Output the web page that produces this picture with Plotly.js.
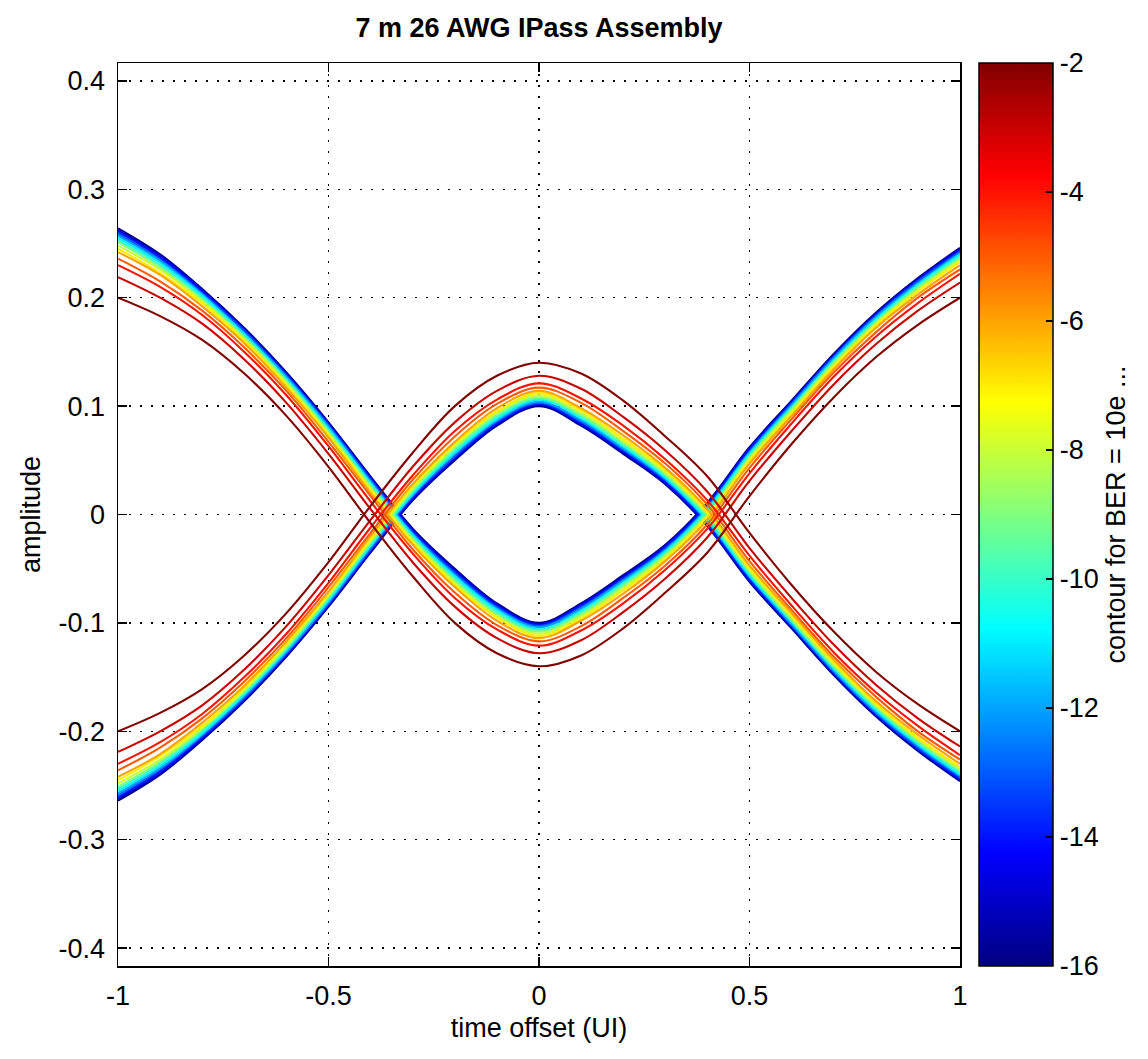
<!DOCTYPE html>
<html><head><meta charset="utf-8">
<script src="https://cdn.plot.ly/plotly-3.0.1.min.js"></script>
<style>html,body{margin:0;padding:0;background:#fff}</style>
</head><body>
<div id="chart" style="width:1148px;height:1059px"></div>
<script>
// ---- data ----
const chartTitle = '7 m 26 AWG IPass Assembly';
const xTitle = 'time offset (UI)';
const yTitle = 'amplitude';
const cbTitle = 'contour for BER = 10e ...';

const timeOffset = [-1,-0.9,-0.8,-0.7,-0.6,-0.5,-0.4,-0.3,-0.2,-0.1,0,0.1,0.2,0.3,0.4,0.5,0.6,0.7,0.8,0.9,1];
const levels = [-2,-3,-4,-5,-6,-7,-8,-9,-10,-11,-12,-13,-14,-15,-16];

const xTickVals = [-1,-0.5,0,0.5,1];
const xTickText = ['-1','-0.5','0','0.5','1'];
const yTickVals = [-0.4,-0.3,-0.2,-0.1,0,0.1,0.2,0.3,0.4];
const yTickText = ['-0.4','-0.3','-0.2','-0.1','0','0.1','0.2','0.3','0.4'];
const cbTickVals = [-16,-14,-12,-10,-8,-6,-4,-2];
const cbTickText = ['-16','-14','-12','-10','-8','-6','-4','-2'];

// contour lines of the trajectory that starts high on the left (falls to the lower arc)
const fallM2  = [.200,.183,.161,.130,.091,.044,-.008,-.057,-.100,-.128,-.140,-.130,-.105,-.072,-.035,.017,.065,.108,.145,.175,.200];
const fallM3  = [.219,.200,.176,.143,.103,.056,.005,-.044,-.085,-.114,-.128,-.116,-.090,-.059,-.021,.031,.077,.120,.157,.188,.214];
const fallM4  = [.230,.210,.184,.150,.110,.063,.012,-.036,-.077,-.106,-.121,-.107,-.082,-.051,-.013,.038,.084,.127,.164,.195,.222];
const fallM5  = [.236,.215,.188,.154,.114,.067,.017,-.032,-.072,-.102,-.117,-.103,-.077,-.047,-.009,.043,.088,.131,.168,.200,.226];
const fallM6  = [.242,.221,.192,.158,.117,.071,.020,-.028,-.067,-.098,-.114,-.098,-.073,-.043,-.005,.047,.091,.134,.172,.203,.230];
const fallM7  = [.245,.223,.195,.160,.119,.073,.023,-.026,-.065,-.095,-.112,-.096,-.070,-.041,-.002,.049,.093,.136,.174,.206,.233];
const fallM8  = [.248,.226,.197,.162,.121,.075,.024,-.024,-.063,-.094,-.110,-.094,-.068,-.039,-.001,.051,.095,.138,.176,.207,.235];
const fallM9  = [.251,.228,.198,.163,.123,.076,.026,-.022,-.061,-.092,-.108,-.092,-.066,-.037,.001,.053,.097,.140,.177,.209,.236];
const fallM10 = [.253,.230,.200,.165,.124,.078,.028,-.021,-.059,-.090,-.107,-.090,-.064,-.036,.003,.054,.098,.141,.179,.211,.238];
const fallM11 = [.255,.232,.202,.166,.125,.079,.029,-.019,-.057,-.088,-.106,-.089,-.063,-.034,.005,.056,.099,.142,.180,.212,.240];
const fallM12 = [.257,.234,.203,.167,.127,.081,.030,-.018,-.056,-.087,-.104,-.087,-.061,-.033,.006,.057,.101,.144,.182,.213,.241];
const fallM13 = [.259,.235,.204,.169,.128,.082,.032,-.017,-.054,-.086,-.103,-.086,-.060,-.032,.007,.058,.102,.145,.183,.215,.242];
const fallM14 = [.261,.237,.206,.170,.129,.083,.033,-.015,-.053,-.084,-.102,-.084,-.059,-.030,.009,.060,.103,.146,.184,.216,.244];
const fallM15 = [.262,.239,.207,.171,.130,.084,.034,-.014,-.051,-.083,-.101,-.083,-.057,-.029,.010,.061,.104,.147,.185,.217,.245];
const fallM16 = [.264,.240,.208,.172,.131,.085,.035,-.013,-.050,-.082,-.100,-.082,-.056,-.028,.011,.062,.105,.148,.186,.218,.246];

// contour lines of the trajectory that starts low on the left (rises to the upper arc)
const riseM2  = [-.200,-.183,-.161,-.130,-.091,-.044,.008,.057,.100,.128,.140,.130,.105,.072,.035,-.017,-.065,-.108,-.145,-.175,-.200];
const riseM3  = [-.219,-.200,-.176,-.143,-.103,-.056,-.005,.044,.085,.114,.128,.116,.090,.059,.021,-.031,-.077,-.120,-.157,-.188,-.214];
const riseM4  = [-.230,-.210,-.184,-.150,-.110,-.063,-.012,.036,.077,.106,.121,.107,.082,.051,.013,-.038,-.084,-.127,-.164,-.195,-.222];
const riseM5  = [-.236,-.215,-.188,-.154,-.114,-.067,-.017,.032,.072,.102,.117,.103,.077,.047,.009,-.043,-.088,-.131,-.168,-.200,-.226];
const riseM6  = [-.242,-.221,-.192,-.158,-.117,-.071,-.020,.028,.067,.098,.114,.098,.073,.043,.005,-.047,-.091,-.134,-.172,-.203,-.230];
const riseM7  = [-.245,-.223,-.195,-.160,-.119,-.073,-.023,.026,.065,.095,.112,.096,.070,.041,.002,-.049,-.093,-.136,-.174,-.206,-.233];
const riseM8  = [-.248,-.226,-.197,-.162,-.121,-.075,-.024,.024,.063,.094,.110,.094,.068,.039,.001,-.051,-.095,-.138,-.176,-.207,-.235];
const riseM9  = [-.251,-.228,-.198,-.163,-.123,-.076,-.026,.022,.061,.092,.108,.092,.066,.037,-.001,-.053,-.097,-.140,-.177,-.209,-.236];
const riseM10 = [-.253,-.230,-.200,-.165,-.124,-.078,-.028,.021,.059,.090,.107,.090,.064,.036,-.003,-.054,-.098,-.141,-.179,-.211,-.238];
const riseM11 = [-.255,-.232,-.202,-.166,-.125,-.079,-.029,.019,.057,.088,.106,.089,.063,.034,-.005,-.056,-.099,-.142,-.180,-.212,-.240];
const riseM12 = [-.257,-.234,-.203,-.167,-.127,-.081,-.030,.018,.056,.087,.104,.087,.061,.033,-.006,-.057,-.101,-.144,-.182,-.213,-.241];
const riseM13 = [-.259,-.235,-.204,-.169,-.128,-.082,-.032,.017,.054,.086,.103,.086,.060,.032,-.007,-.058,-.102,-.145,-.183,-.215,-.242];
const riseM14 = [-.261,-.237,-.206,-.170,-.129,-.083,-.033,.015,.053,.084,.102,.084,.059,.030,-.009,-.060,-.103,-.146,-.184,-.216,-.244];
const riseM15 = [-.262,-.239,-.207,-.171,-.130,-.084,-.034,.014,.051,.083,.101,.083,.057,.029,-.010,-.061,-.104,-.147,-.185,-.217,-.245];
const riseM16 = [-.264,-.240,-.208,-.172,-.131,-.085,-.035,.013,.050,.082,.100,.082,.056,.028,-.011,-.062,-.105,-.148,-.186,-.218,-.246];

const fallLines = [fallM2,fallM3,fallM4,fallM5,fallM6,fallM7,fallM8,fallM9,fallM10,fallM11,fallM12,fallM13,fallM14,fallM15,fallM16];
const riseLines = [riseM2,riseM3,riseM4,riseM5,riseM6,riseM7,riseM8,riseM9,riseM10,riseM11,riseM12,riseM13,riseM14,riseM15,riseM16];

// ---- styling ----
const FONT = '"Liberation Sans", Arial, Helvetica, sans-serif';
const FS = 27;
const jetScale = [[0,'#000080'],[0.125,'#0000ff'],[0.375,'#00ffff'],[0.625,'#ffff00'],[0.875,'#ff0000'],[1,'#800000']];
const cmin = -16, cmax = -2;

function hex(c){return [parseInt(c.slice(1,3),16),parseInt(c.slice(3,5),16),parseInt(c.slice(5,7),16)];}
function colorAt(v){
  const t = (v - cmin)/(cmax - cmin);
  for(let i=1;i<jetScale.length;i++){
    if(t <= jetScale[i][0]){
      const a = jetScale[i-1], b = jetScale[i];
      const f = (t - a[0])/(b[0]-a[0]);
      const ca = hex(a[1]), cb = hex(b[1]);
      const rgb = ca.map((x,k)=>Math.round(x + (cb[k]-x)*f));
      return 'rgb('+rgb.join(',')+')';
    }
  }
  return jetScale[jetScale.length-1][1];
}

const traces = [];
// draw the coldest level first so the warmer contours sit on top
for (let i = levels.length - 1; i >= 0; i--) {
  const lv = levels[i];
  [fallLines[i], riseLines[i]].forEach(arr => {
    traces.push({
      type:'scatter', mode:'lines', x: timeOffset, y: arr,
      line:{color: colorAt(lv), width: 2.1, shape:'spline', smoothing: 1},
      hoverinfo:'skip', showlegend:false
    });
  });
}

// colour bar
traces.push({
  type:'scatter', mode:'markers', x:[null], y:[null], hoverinfo:'skip', showlegend:false,
  marker:{color:[cmin], cmin:cmin, cmax:cmax, colorscale: jetScale, showscale:true, size:1, opacity:0,
    colorbar:{
      x: 1.0226, xanchor:'left', xpad:0, ypad:0, y:0.5, yanchor:'middle',
      len:1, lenmode:'fraction', thickness:74, thicknessmode:'pixels',
      outlinewidth:1.5, outlinecolor:'#000',
      tickmode:'array', tickvals: cbTickVals, ticktext: cbTickText,
      ticks:'inside', ticklen:7, tickwidth:1.5, tickcolor:'#000',
      tickfont:{family:FONT, size:FS, color:'#000'},
      title:{text: cbTitle, side:'right', font:{family:FONT, size:FS, color:'#000'}}
    }}
});

const axisCommon = {
  showline:true, linecolor:'#000', linewidth:1.5, mirror:'ticks',
  ticks:'inside', ticklen:9, tickwidth:1.5, tickcolor:'#000',
  showgrid:true, gridcolor:'#000', gridwidth:1.5, griddash:'2px,9px',
  zeroline:false, tickfont:{family:FONT, size:FS, color:'#000'}
};

const layout = {
  width:1148, height:1059,
  margin:{l:118, r:188, t:63, b:93},
  paper_bgcolor:'#fff', plot_bgcolor:'#fff',
  title:{text:'<b>'+chartTitle+'</b>', x:0.5, xref:'paper', xanchor:'center', y:1-28/1059, yanchor:'middle',
    font:{family:FONT, size:FS, color:'#000'}},
  xaxis: Object.assign({}, axisCommon, {
    range:[-1,1], tickmode:'array', tickvals:xTickVals, ticktext:xTickText, ticklabelstandoff:5,
    title:{text:xTitle, standoff:8, font:{family:FONT, size:FS, color:'#000'}}
  }),
  yaxis: Object.assign({}, axisCommon, {
    range:[-0.4165,0.4165], tickmode:'array', tickvals:yTickVals, ticktext:yTickText, ticklabelstandoff:6,
    title:{text:yTitle, standoff:10, font:{family:FONT, size:FS, color:'#000'}}
  }),
  showlegend:false
};

Plotly.newPlot('chart', traces, layout, {displayModeBar:false, staticPlot:true});
</script>
</body></html>
